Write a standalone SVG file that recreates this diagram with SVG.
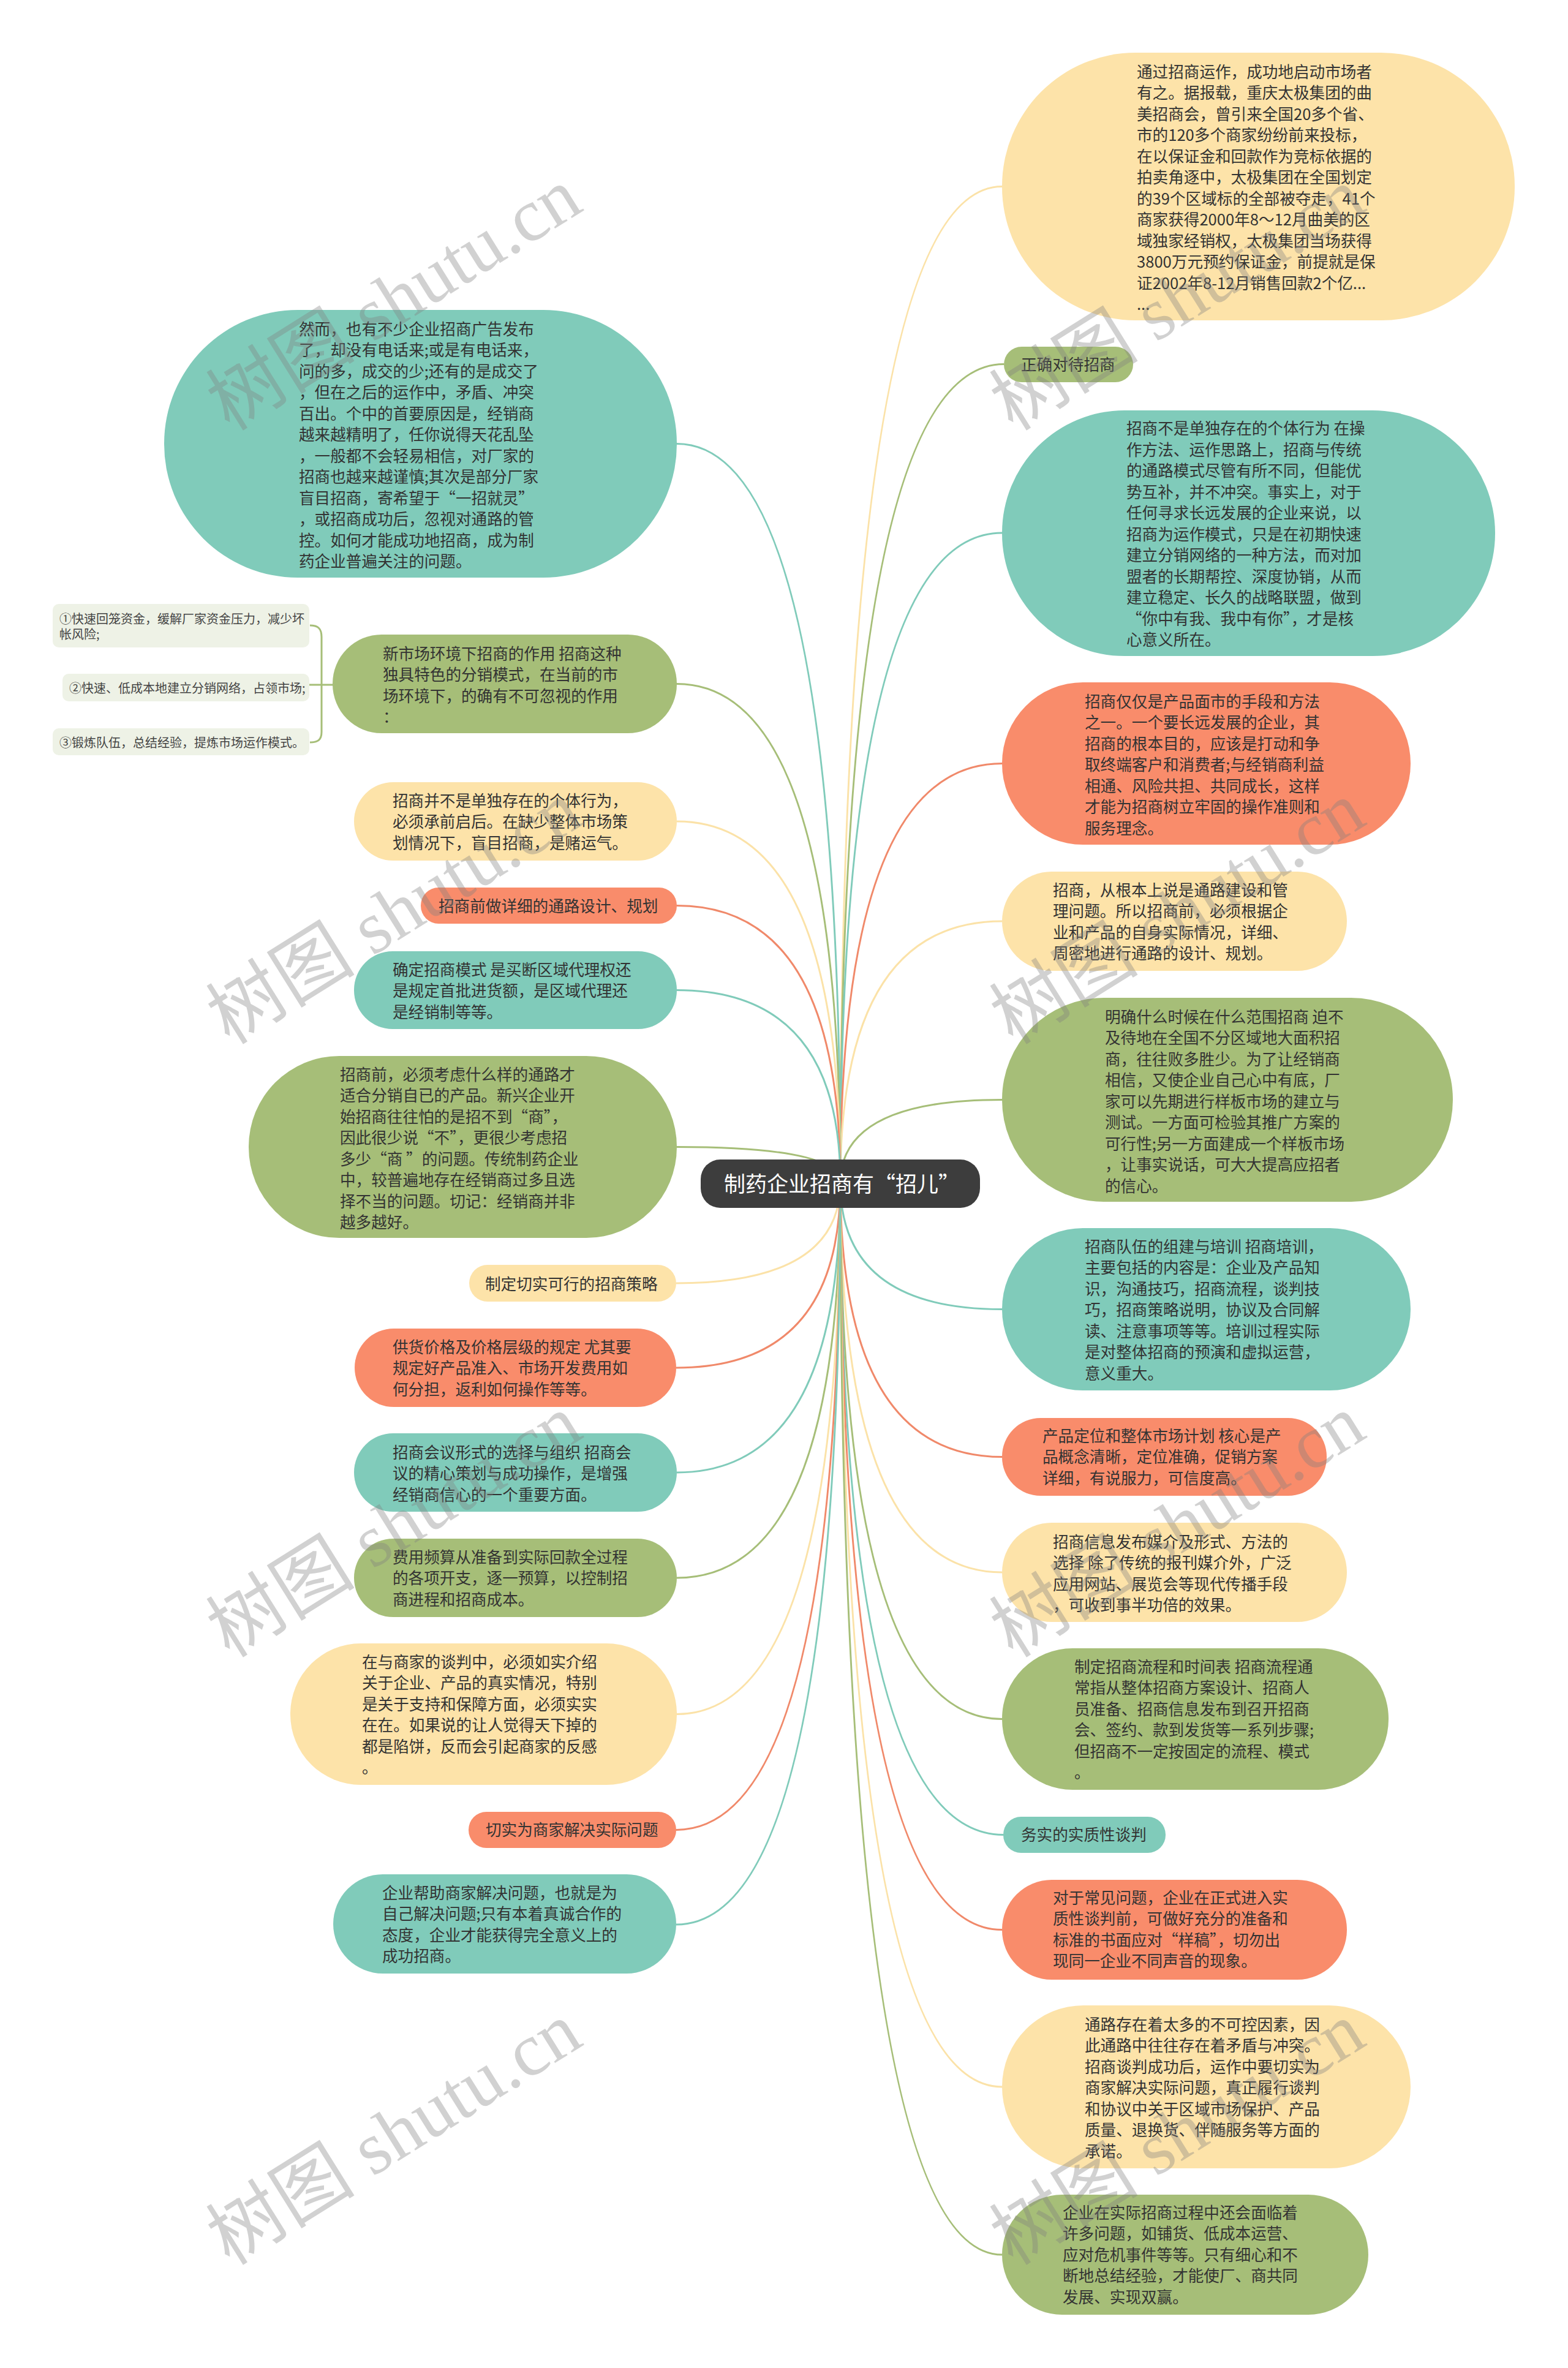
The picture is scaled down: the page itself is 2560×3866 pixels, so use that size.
<svg xmlns="http://www.w3.org/2000/svg" width="2560" height="3866" viewBox="0 0 2560 3866">
<style>
.t{font-family:"Noto Sans CJK SC","Noto Sans",sans-serif;font-size:25.6px;fill:#333333}
.s{font-family:"Noto Sans CJK SC","Noto Sans",sans-serif;font-size:20px;fill:#444444}
.c{font-family:"Noto Sans CJK SC","Noto Sans",sans-serif;font-size:35px;fill:#ffffff}
.w{font-family:"Liberation Serif","Noto Sans CJK SC",serif;font-size:122px;fill:#7f7f7f;fill-opacity:0.36}
.ln{fill:none;stroke-width:3}
.y{fill:#FDE3A9}.g{fill:#A6BE78}.b{fill:#80CBBA}.o{fill:#F98C6B}.sub{fill:#EEF2E6}
.ly{stroke:#FBE2A8}.lg{stroke:#A6BE78}.lb{stroke:#80CBBA}.lo{stroke:#F0896A}
</style>
<rect x="0" y="0" width="2560" height="3866" fill="#ffffff"/>
<g id="connectors">
<path class="ln ly" d="M1372,1931 Q1372,304.5 1636,304.5"/>
<path class="ln lg" d="M1372,1931 Q1372,594.5 1639,594.5"/>
<path class="ln lb" d="M1372,1931 Q1372,870 1636,870"/>
<path class="ln lo" d="M1372,1931 Q1372,1246.5 1636,1246.5"/>
<path class="ln ly" d="M1372,1931 Q1372,1504 1636,1504"/>
<path class="ln lg" d="M1372,1931 Q1372,1795.5 1636,1795.5"/>
<path class="ln lb" d="M1372,1931 Q1372,2137.5 1636,2137.5"/>
<path class="ln lo" d="M1372,1931 Q1372,2378.5 1636,2378.5"/>
<path class="ln ly" d="M1372,1931 Q1372,2567 1636,2567"/>
<path class="ln lg" d="M1372,1931 Q1372,2806.5 1636,2806.5"/>
<path class="ln lb" d="M1372,1931 Q1372,2995.5 1638,2995.5"/>
<path class="ln lo" d="M1372,1931 Q1372,3150.5 1636,3150.5"/>
<path class="ln ly" d="M1372,1931 Q1372,3407 1636,3407"/>
<path class="ln lg" d="M1372,1931 Q1372,3681 1636,3681"/>
<path class="ln lb" d="M1372,1931 Q1372,724.5 1105,724.5"/>
<path class="ln lg" d="M1372,1931 Q1372,1116.5 1105,1116.5"/>
<path class="ln ly" d="M1372,1931 Q1372,1341 1105,1341"/>
<path class="ln lo" d="M1372,1931 Q1372,1478.5 1105,1478.5"/>
<path class="ln lb" d="M1372,1931 Q1372,1616.5 1105,1616.5"/>
<path class="ln lg" d="M1372,1931 Q1372,1872.5 1105,1872.5"/>
<path class="ln ly" d="M1372,1931 Q1372,2095 1104,2095"/>
<path class="ln lo" d="M1372,1931 Q1372,2233 1104,2233"/>
<path class="ln lb" d="M1372,1931 Q1372,2404 1105,2404"/>
<path class="ln lg" d="M1372,1931 Q1372,2576 1105,2576"/>
<path class="ln ly" d="M1372,1931 Q1372,2798.5 1105,2798.5"/>
<path class="ln lo" d="M1372,1931 Q1372,2987.5 1104,2987.5"/>
<path class="ln lb" d="M1372,1931 Q1372,3142 1104,3142"/>
<path class="ln lg" d="M545,1118 L505,1118"/>
<path class="ln lg" d="M506,1021 C519,1021 525,1026 525,1040 L525,1195 C525,1208 519,1212 506,1212"/>
</g>
<g id="center">
<rect x="1144" y="1893" width="456" height="79" rx="32" fill="#3D3D3D"/>
<text class="c" x="1182" y="1946">制药企业招商有“招儿”</text>
</g>
<g id="r1">
<rect class="y" x="1636" y="86" width="837" height="437" rx="218"/>
<text class="t"><tspan x="1856" y="126.5">通过招商运作，成功地启动市场者</tspan><tspan x="1856" y="161">有之。据报载，重庆太极集团的曲</tspan><tspan x="1856" y="195.5">美招商会，曾引来全国20多个省、</tspan><tspan x="1856" y="230">市的120多个商家纷纷前来投标，</tspan><tspan x="1856" y="264.5">在以保证金和回款作为竞标依据的</tspan><tspan x="1856" y="299">拍卖角逐中，太极集团在全国划定</tspan><tspan x="1856" y="333.5">的39个区域标的全部被夺走，41个</tspan><tspan x="1856" y="368">商家获得2000年8～12月曲美的区</tspan><tspan x="1856" y="402.5">域独家经销权，太极集团当场获得</tspan><tspan x="1856" y="437">3800万元预约保证金，前提就是保</tspan><tspan x="1856" y="471.5">证2002年8-12月销售回款2个亿...</tspan><tspan x="1856" y="506">...</tspan></text>
</g>
<g id="r2">
<rect class="g" x="1639" y="566" width="211" height="58" rx="29"/>
<text class="t" x="1667" y="604.5">正确对待招商</text>
</g>
<g id="r3">
<rect class="b" x="1636" y="670" width="805" height="401" rx="200"/>
<text class="t"><tspan x="1839" y="709">招商不是单独存在的个体行为 在操</tspan><tspan x="1839" y="743.5">作方法、运作思路上，招商与传统</tspan><tspan x="1839" y="778">的通路模式尽管有所不同，但能优</tspan><tspan x="1839" y="812.5">势互补，并不冲突。事实上，对于</tspan><tspan x="1839" y="847">任何寻求长远发展的企业来说，以</tspan><tspan x="1839" y="881.5">招商为运作模式，只是在初期快速</tspan><tspan x="1839" y="916">建立分销网络的一种方法，而对加</tspan><tspan x="1839" y="950.5">盟者的长期帮控、深度协销，从而</tspan><tspan x="1839" y="985">建立稳定、长久的战略联盟，做到</tspan><tspan x="1839" y="1019.5">“你中有我、我中有你”，才是核</tspan><tspan x="1839" y="1054">心意义所在。</tspan></text>
</g>
<g id="r4">
<rect class="o" x="1636" y="1114" width="667" height="265" rx="132"/>
<text class="t"><tspan x="1771" y="1154.5">招商仅仅是产品面市的手段和方法</tspan><tspan x="1771" y="1189">之一。一个要长远发展的企业，其</tspan><tspan x="1771" y="1223.5">招商的根本目的，应该是打动和争</tspan><tspan x="1771" y="1258">取终端客户和消费者;与经销商利益</tspan><tspan x="1771" y="1292.5">相通、风险共担、共同成长，这样</tspan><tspan x="1771" y="1327">才能为招商树立牢固的操作准则和</tspan><tspan x="1771" y="1361.5">服务理念。</tspan></text>
</g>
<g id="r5">
<rect class="y" x="1636" y="1423" width="563" height="162" rx="81"/>
<text class="t"><tspan x="1719" y="1462.5">招商，从根本上说是通路建设和管</tspan><tspan x="1719" y="1497">理问题。所以招商前，必须根据企</tspan><tspan x="1719" y="1531.5">业和产品的自身实际情况，详细、</tspan><tspan x="1719" y="1566">周密地进行通路的设计、规划。</tspan></text>
</g>
<g id="r6">
<rect class="g" x="1636" y="1629" width="736" height="333" rx="166"/>
<text class="t"><tspan x="1804" y="1669.5">明确什么时候在什么范围招商 迫不</tspan><tspan x="1804" y="1704">及待地在全国不分区域地大面积招</tspan><tspan x="1804" y="1738.5">商，往往败多胜少。为了让经销商</tspan><tspan x="1804" y="1773">相信，又使企业自己心中有底，厂</tspan><tspan x="1804" y="1807.5">家可以先期进行样板市场的建立与</tspan><tspan x="1804" y="1842">测试。一方面可检验其推广方案的</tspan><tspan x="1804" y="1876.5">可行性;另一方面建成一个样板市场</tspan><tspan x="1804" y="1911">，让事实说话，可大大提高应招者</tspan><tspan x="1804" y="1945.5">的信心。</tspan></text>
</g>
<g id="r7">
<rect class="b" x="1636" y="2005" width="667" height="265" rx="132"/>
<text class="t"><tspan x="1771" y="2044.5">招商队伍的组建与培训 招商培训，</tspan><tspan x="1771" y="2079">主要包括的内容是：企业及产品知</tspan><tspan x="1771" y="2113.5">识，沟通技巧，招商流程，谈判技</tspan><tspan x="1771" y="2148">巧，招商策略说明，协议及合同解</tspan><tspan x="1771" y="2182.5">读、注意事项等等。培训过程实际</tspan><tspan x="1771" y="2217">是对整体招商的预演和虚拟运营，</tspan><tspan x="1771" y="2251.5">意义重大。</tspan></text>
</g>
<g id="r8">
<rect class="o" x="1636" y="2315" width="530" height="127" rx="63"/>
<text class="t"><tspan x="1702" y="2353.5">产品定位和整体市场计划 核心是产</tspan><tspan x="1702" y="2388">品概念清晰，定位准确，促销方案</tspan><tspan x="1702" y="2422.5">详细，有说服力，可信度高。</tspan></text>
</g>
<g id="r9">
<rect class="y" x="1636" y="2486" width="563" height="162" rx="81"/>
<text class="t"><tspan x="1719" y="2526.5">招商信息发布媒介及形式、方法的</tspan><tspan x="1719" y="2561">选择 除了传统的报刊媒介外，广泛</tspan><tspan x="1719" y="2595.5">应用网站、展览会等现代传播手段</tspan><tspan x="1719" y="2630">，可收到事半功倍的效果。</tspan></text>
</g>
<g id="r10">
<rect class="g" x="1636" y="2691" width="631" height="231" rx="115"/>
<text class="t"><tspan x="1754" y="2730.5">制定招商流程和时间表 招商流程通</tspan><tspan x="1754" y="2765">常指从整体招商方案设计、招商人</tspan><tspan x="1754" y="2799.5">员准备、招商信息发布到召开招商</tspan><tspan x="1754" y="2834">会、签约、款到发货等一系列步骤;</tspan><tspan x="1754" y="2868.5">但招商不一定按固定的流程、模式</tspan><tspan x="1754" y="2903">。</tspan></text>
</g>
<g id="r11">
<rect class="b" x="1638" y="2966" width="265" height="59" rx="29"/>
<text class="t" x="1667" y="3005">务实的实质性谈判</text>
</g>
<g id="r12">
<rect class="o" x="1636" y="3069" width="563" height="163" rx="81"/>
<text class="t"><tspan x="1719" y="3107.5">对于常见问题，企业在正式进入实</tspan><tspan x="1719" y="3142">质性谈判前，可做好充分的准备和</tspan><tspan x="1719" y="3176.5">标准的书面应对“样稿”，切勿出</tspan><tspan x="1719" y="3211">现同一企业不同声音的现象。</tspan></text>
</g>
<g id="r13">
<rect class="y" x="1636" y="3274" width="667" height="266" rx="133"/>
<text class="t"><tspan x="1771" y="3314.5">通路存在着太多的不可控因素，因</tspan><tspan x="1771" y="3349">此通路中往往存在着矛盾与冲突。</tspan><tspan x="1771" y="3383.5">招商谈判成功后，运作中要切实为</tspan><tspan x="1771" y="3418">商家解决实际问题，真正履行谈判</tspan><tspan x="1771" y="3452.5">和协议中关于区域市场保护、产品</tspan><tspan x="1771" y="3487">质量、退换货、伴随服务等方面的</tspan><tspan x="1771" y="3521.5">承诺。</tspan></text>
</g>
<g id="r14">
<rect class="g" x="1636" y="3583" width="598" height="196" rx="98"/>
<text class="t"><tspan x="1735" y="3621.5">企业在实际招商过程中还会面临着</tspan><tspan x="1735" y="3656">许多问题，如铺货、低成本运营、</tspan><tspan x="1735" y="3690.5">应对危机事件等等。只有细心和不</tspan><tspan x="1735" y="3725">断地总结经验，才能使厂、商共同</tspan><tspan x="1735" y="3759.5">发展、实现双赢。</tspan></text>
</g>
<g id="l1">
<rect class="b" x="268" y="506" width="837" height="437" rx="218"/>
<text class="t"><tspan x="488" y="546.5">然而，也有不少企业招商广告发布</tspan><tspan x="488" y="581">了，却没有电话来;或是有电话来，</tspan><tspan x="488" y="615.5">问的多，成交的少;还有的是成交了</tspan><tspan x="488" y="650">，但在之后的运作中，矛盾、冲突</tspan><tspan x="488" y="684.5">百出。个中的首要原因是，经销商</tspan><tspan x="488" y="719">越来越精明了，任你说得天花乱坠</tspan><tspan x="488" y="753.5">，一般都不会轻易相信，对厂家的</tspan><tspan x="488" y="788">招商也越来越谨慎;其次是部分厂家</tspan><tspan x="488" y="822.5">盲目招商，寄希望于“一招就灵”</tspan><tspan x="488" y="857">，或招商成功后，忽视对通路的管</tspan><tspan x="488" y="891.5">控。如何才能成功地招商，成为制</tspan><tspan x="488" y="926">药企业普遍关注的问题。</tspan></text>
</g>
<g id="l2">
<rect class="g" x="543" y="1036" width="562" height="161" rx="80"/>
<text class="t"><tspan x="625" y="1076.5">新市场环境下招商的作用 招商这种</tspan><tspan x="625" y="1111">独具特色的分销模式，在当前的市</tspan><tspan x="625" y="1145.5">场环境下，的确有不可忽视的作用</tspan><tspan x="625" y="1180">：</tspan></text>
</g>
<g id="l2a">
<rect class="sub" x="86" y="986" width="419" height="71" rx="10"/>
<text class="s"><tspan x="97" y="1017.5">①快速回笼资金，缓解厂家资金压力，减少坏</tspan><tspan x="97" y="1042.5">帐风险;</tspan></text>
</g>
<g id="l2b">
<rect class="sub" x="102" y="1100" width="403" height="45" rx="10"/>
<text class="s" x="113" y="1130.5">②快速、低成本地建立分销网络，占领市场;</text>
</g>
<g id="l2c">
<rect class="sub" x="86" y="1189" width="419" height="44" rx="10"/>
<text class="s" x="97" y="1219.5">③锻炼队伍，总结经验，提炼市场运作模式。</text>
</g>
<g id="l3">
<rect class="y" x="578" y="1277" width="527" height="128" rx="64"/>
<text class="t"><tspan x="641" y="1316.5">招商并不是单独存在的个体行为，</tspan><tspan x="641" y="1351">必须承前启后。在缺少整体市场策</tspan><tspan x="641" y="1385.5">划情况下，盲目招商，是赌运气。</tspan></text>
</g>
<g id="l4">
<rect class="o" x="687" y="1449" width="418" height="59" rx="29"/>
<text class="t" x="716" y="1488.5">招商前做详细的通路设计、规划</text>
</g>
<g id="l5">
<rect class="b" x="578" y="1553" width="527" height="127" rx="63"/>
<text class="t"><tspan x="641" y="1592.5">确定招商模式 是买断区域代理权还</tspan><tspan x="641" y="1627">是规定首批进货额，是区域代理还</tspan><tspan x="641" y="1661.5">是经销制等等。</tspan></text>
</g>
<g id="l6">
<rect class="g" x="406" y="1724" width="699" height="297" rx="148"/>
<text class="t"><tspan x="555" y="1763.5">招商前，必须考虑什么样的通路才</tspan><tspan x="555" y="1798">适合分销自已的产品。新兴企业开</tspan><tspan x="555" y="1832.5">始招商往往怕的是招不到“商”，</tspan><tspan x="555" y="1867">因此很少说“不”，更很少考虑招</tspan><tspan x="555" y="1901.5">多少“商 ”的问题。传统制药企业</tspan><tspan x="555" y="1936">中，较普遍地存在经销商过多且选</tspan><tspan x="555" y="1970.5">择不当的问题。切记：经销商并非</tspan><tspan x="555" y="2005">越多越好。</tspan></text>
</g>
<g id="l7">
<rect class="y" x="766" y="2065" width="338" height="60" rx="30"/>
<text class="t" x="792" y="2105.5">制定切实可行的招商策略</text>
</g>
<g id="l8">
<rect class="o" x="579" y="2169" width="525" height="128" rx="64"/>
<text class="t"><tspan x="641" y="2208.5">供货价格及价格层级的规定 尤其要</tspan><tspan x="641" y="2243">规定好产品准入、市场开发费用如</tspan><tspan x="641" y="2277.5">何分担，返利如何操作等等。</tspan></text>
</g>
<g id="l9">
<rect class="b" x="578" y="2340" width="527" height="128" rx="64"/>
<text class="t"><tspan x="641" y="2380.5">招商会议形式的选择与组织 招商会</tspan><tspan x="641" y="2415">议的精心策划与成功操作，是增强</tspan><tspan x="641" y="2449.5">经销商信心的一个重要方面。</tspan></text>
</g>
<g id="l10">
<rect class="g" x="578" y="2512" width="527" height="128" rx="64"/>
<text class="t"><tspan x="641" y="2551.5">费用频算从准备到实际回款全过程</tspan><tspan x="641" y="2586">的各项开支，逐一预算，以控制招</tspan><tspan x="641" y="2620.5">商进程和招商成本。</tspan></text>
</g>
<g id="l11">
<rect class="y" x="474" y="2683" width="631" height="231" rx="115"/>
<text class="t"><tspan x="591" y="2722.5">在与商家的谈判中，必须如实介绍</tspan><tspan x="591" y="2757">关于企业、产品的真实情况，特别</tspan><tspan x="591" y="2791.5">是关于支持和保障方面，必须实实</tspan><tspan x="591" y="2826">在在。如果说的让人觉得天下掉的</tspan><tspan x="591" y="2860.5">都是陷饼，反而会引起商家的反感</tspan><tspan x="591" y="2895">。</tspan></text>
</g>
<g id="l12">
<rect class="o" x="765" y="2958" width="339" height="59" rx="29"/>
<text class="t" x="793" y="2997">切实为商家解决实际问题</text>
</g>
<g id="l13">
<rect class="b" x="544" y="3060" width="560" height="162" rx="81"/>
<text class="t"><tspan x="624" y="3099.5">企业帮助商家解决问题，也就是为</tspan><tspan x="624" y="3134">自己解决问题;只有本着真诚合作的</tspan><tspan x="624" y="3168.5">态度，企业才能获得完全意义上的</tspan><tspan x="624" y="3203">成功招商。</tspan></text>
</g>
<g id="watermarks">
<text class="w" transform="translate(375,705) rotate(-32)">树图 shutu.cn</text>
<text class="w" transform="translate(1654,705) rotate(-32)">树图 shutu.cn</text>
<text class="w" transform="translate(375,1707) rotate(-32)">树图 shutu.cn</text>
<text class="w" transform="translate(1654,1707) rotate(-32)">树图 shutu.cn</text>
<text class="w" transform="translate(375,2708) rotate(-32)">树图 shutu.cn</text>
<text class="w" transform="translate(1654,2708) rotate(-32)">树图 shutu.cn</text>
<text class="w" transform="translate(375,3700) rotate(-32)">树图 shutu.cn</text>
<text class="w" transform="translate(1654,3700) rotate(-32)">树图 shutu.cn</text>
</g>
</svg>
